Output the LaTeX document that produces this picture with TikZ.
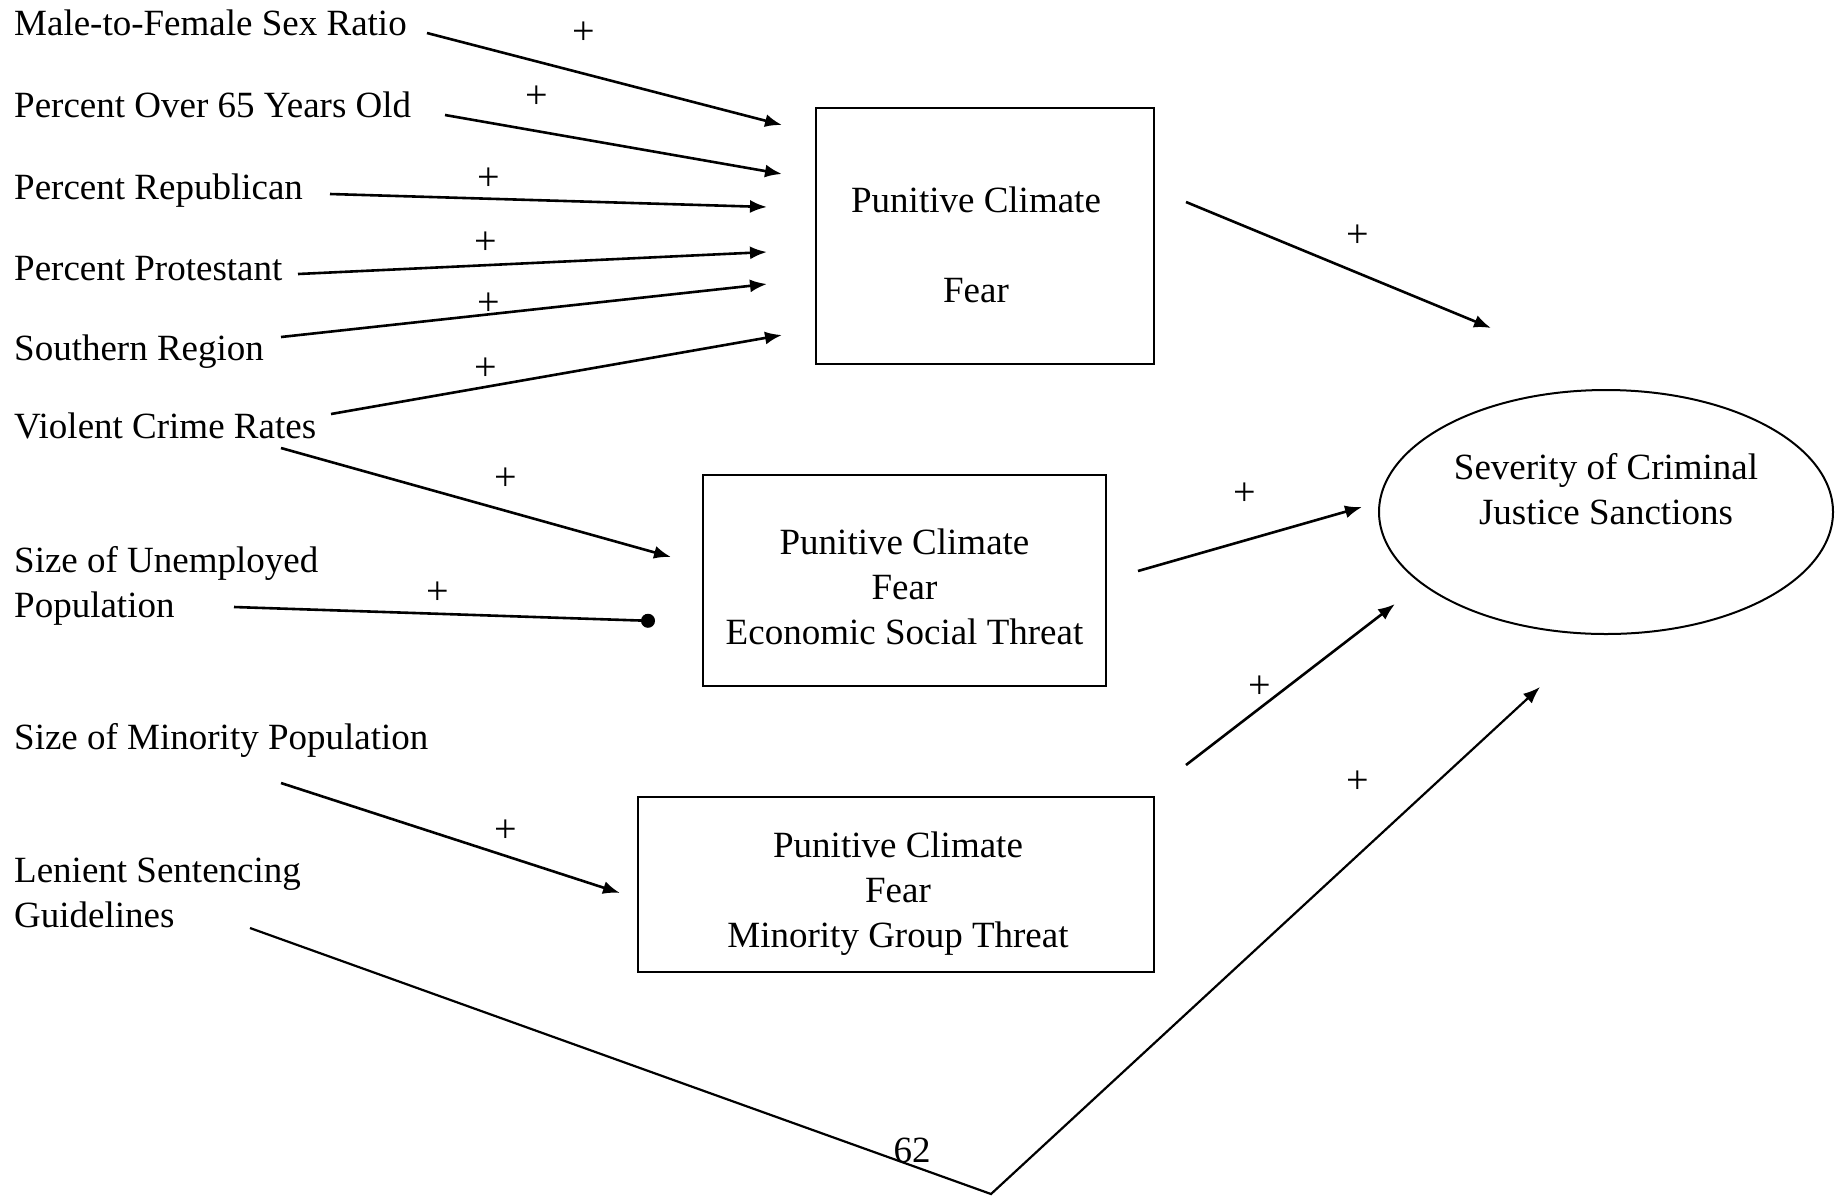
\documentclass[tikz,border=0pt]{standalone}
\usepackage{fontspec}
\setmainfont{Liberation Serif}
\usetikzlibrary{arrows.meta,shapes.geometric}
\begin{document}
\begin{tikzpicture}[x=1pt,y=-1pt,
  lbl/.style={anchor=base west, inner sep=0pt, font=\fontsize{37}{45}\selectfont},
  mlbl/.style={anchor=west, inner sep=0pt, font=\fontsize{37}{45}\selectfont, align=left},
  boxnode/.style={draw, line width=2.6pt, inner sep=0pt},
  boxtext/.style={inner sep=0pt, font=\fontsize{37}{45}\selectfont, align=center},
  plus/.style={font=\fontsize{40}{44}\selectfont, inner sep=0pt},
  arr/.style={line width=2.6pt, -{Latex[length=17pt,width=13pt]}},
  dotarr/.style={line width=2.6pt, -{Circle[length=14pt]}},
]
\useasboundingbox (0,0) rectangle (1835,1195);

% left labels
\node[lbl] (male) at (14,35) {Male-to-Female Sex Ratio};
\node[lbl] (over) at (14,117) {Percent Over 65 Years Old};
\node[lbl] (rep) at (14,199) {Percent Republican};
\node[lbl] (prot) at (14,280) {Percent Protestant};
\node[lbl] (south) at (14,360) {Southern Region};
\node[lbl] (viol) at (14,438) {Violent Crime Rates};
\node[mlbl] (unemp) at (14,586) {Size of Unemployed\\Population};
\node[lbl] (minor) at (14,749) {Size of Minority Population};
\node[mlbl] (len) at (14,893) {Lenient Sentencing\\Guidelines};

% boxes
\node[boxnode, minimum width=338pt, minimum height=256pt] (b1) at (985,236) {};
\node[boxtext] (b1t) at ([xshift=-9pt,yshift=-9pt]b1.center) {Punitive Climate\\[45pt]Fear};
\node[boxnode, minimum width=403pt, minimum height=211pt] (b2) at (904.5,580.5) {};
\node[boxtext] (b2t) at ([yshift=-6pt]b2.center) {Punitive Climate\\Fear\\Economic Social Threat};
\node[boxnode, minimum width=516pt, minimum height=175pt] (b3) at (896,884.5) {};
\node[boxtext] (b3t) at ([xshift=2pt,yshift=-9pt]b3.center) {Punitive Climate\\Fear\\Minority Group Threat};

% ellipse
\node[draw, ellipse, line width=2pt, minimum width=454pt, minimum height=244pt, inner sep=0pt] (sev) at (1606,512) {};
\node[boxtext] (sevtext) at ([yshift=23pt]sev.center) {Severity of Criminal\\Justice Sanctions};

% arrow end points
\coordinate (m0) at (427,33);   \coordinate (m1) at (782,125);
\coordinate (o0) at (445,115);  \coordinate (o1) at (782,174);
\coordinate (r0) at (330,194);  \coordinate (r1) at (767,207);
\coordinate (p0) at (298,274);  \coordinate (p1) at (767,252);
\coordinate (s0) at (281,337);  \coordinate (s1) at (767,284);
\coordinate (v0) at (331,414);  \coordinate (v1) at (782,335);
\coordinate (w0) at (281,448);  \coordinate (w1) at (671,557);
\coordinate (u0) at (234,607);  \coordinate (u1) at (655,621);
\coordinate (n0) at (281,783);  \coordinate (n1) at (620,893);
\coordinate (l0) at (250,928);  \coordinate (lb) at (991,1194); \coordinate (l1) at (1540,687);
\coordinate (a0) at (1186,202); \coordinate (a1) at (1491,328);
\coordinate (c0) at (1138,571); \coordinate (c1) at (1362,507);
\coordinate (d0) at (1186,765); \coordinate (d1) at (1395,604);

\draw[arr] (m0) -- (m1);
\draw[arr] (o0) -- (o1);
\draw[arr] (r0) -- (r1);
\draw[arr] (p0) -- (p1);
\draw[arr] (s0) -- (s1);
\draw[arr] (v0) -- (v1);
\draw[arr] (w0) -- (w1);
\draw[dotarr] (u0) -- (u1);
\draw[arr] (n0) -- (n1);
\draw[arr, line width=2.2pt] (l0) -- (lb) -- (l1);
\draw[arr] (a0) -- (a1);
\draw[arr] (c0) -- (c1);
\draw[arr] (d0) -- (d1);

% plus signs
\node[plus] (pl1) at (584,33) {+};
\node[plus] (pl2) at (537,97) {+};
\node[plus] (pl3) at (489,179) {+};
\node[plus] (pl4) at (486,243) {+};
\node[plus] (pl5) at (489,304) {+};
\node[plus] (pl6) at (486,369) {+};
\node[plus] (pl7) at (506,479) {+};
\node[plus] (pl8) at (438,593) {+};
\node[plus] (pl9) at (506,831) {+};
\node[plus] (pl10) at (1358,782) {+};
\node[plus] (pl11) at (1358,236) {+};
\node[plus] (pl12) at (1245,494) {+};
\node[plus] (pl13) at (1260,687) {+};

\node[boxtext] (pg) at (912,1150) {62};
\end{tikzpicture}
\end{document}
